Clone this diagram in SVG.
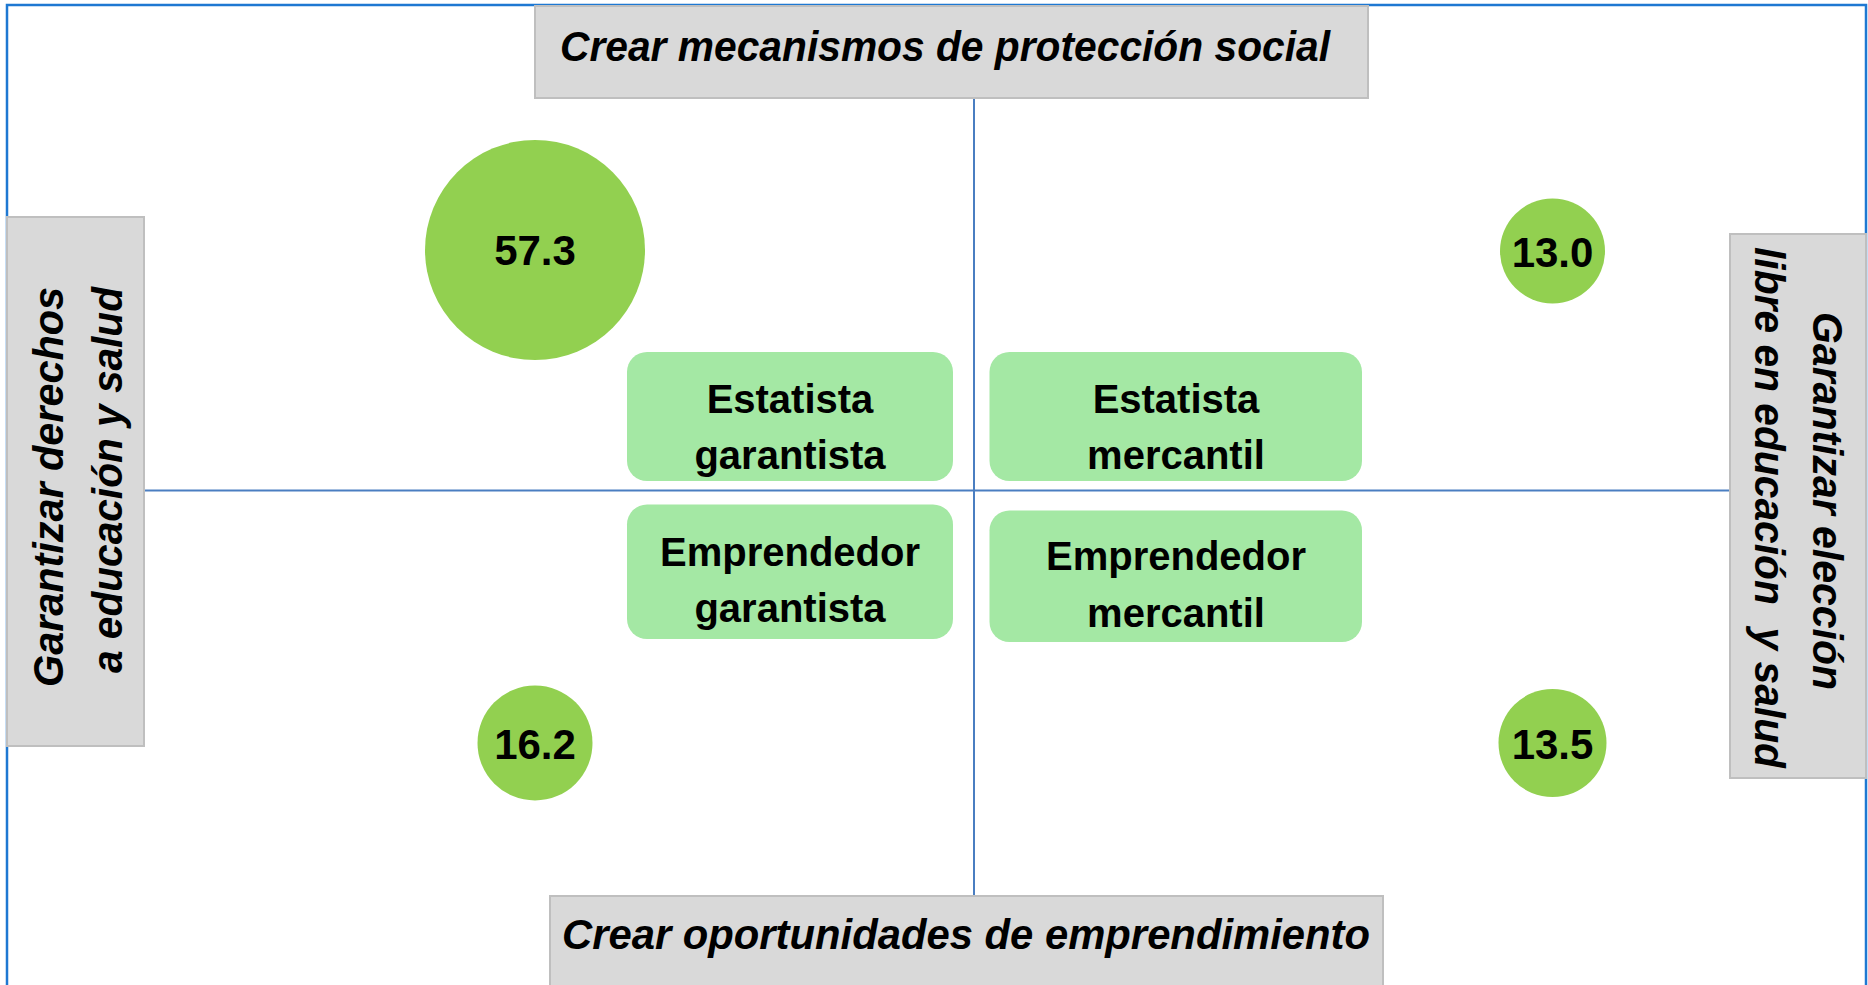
<svg xmlns="http://www.w3.org/2000/svg" width="1868" height="985" viewBox="0 0 1868 985">
<style>
.axis{fill:#D9D9D9;stroke:#BFBFBF;stroke-width:2}
.axt{font-family:"Liberation Sans",Arial,sans-serif;font-weight:bold;font-style:italic;font-size:43px;fill:#000;white-space:pre}
.dot{fill:#92D050}
.num{font-family:"Liberation Sans",Arial,sans-serif;font-weight:bold;font-size:42px;fill:#000;text-anchor:middle}
.quad{fill:#A4E8A4}
.qt{font-family:"Liberation Sans",Arial,sans-serif;font-weight:bold;font-size:40px;fill:#000;text-anchor:middle}
.ln{stroke:#4A7EC1;stroke-width:2;fill:none}
</style>
<rect x="0" y="0" width="1868" height="985" fill="#FFFFFF"/>
<rect id="frame" x="7" y="5" width="1859" height="1010" fill="none" stroke="#1E78D2" stroke-width="2.5"/>
<g id="connectors">
<line class="ln" x1="144" y1="490.5" x2="1730" y2="490.5"/>
<line class="ln" x1="974" y1="98" x2="974" y2="896"/>
</g>
<g id="top-axis">
<rect class="axis" x="535" y="6" width="833" height="92"/>
<text class="axt" x="560" y="61" textLength="770" lengthAdjust="spacingAndGlyphs">Crear mecanismos de protección social</text>
</g>
<g id="bottom-axis">
<rect class="axis" x="550" y="896" width="833" height="110"/>
<text class="axt" x="562" y="949" textLength="808" lengthAdjust="spacingAndGlyphs">Crear oportunidades de emprendimiento</text>
</g>
<g id="left-axis">
<rect class="axis" x="7" y="217" width="137" height="529"/>
<text class="axt" transform="translate(63,687) rotate(-90)" x="0" y="0" textLength="400" lengthAdjust="spacingAndGlyphs">Garantizar derechos</text>
<text class="axt" transform="translate(121.5,673) rotate(-90)" x="0" y="0" textLength="386" lengthAdjust="spacingAndGlyphs">a educación y salud</text>
</g>
<g id="right-axis">
<rect class="axis" x="1730" y="234" width="136" height="544"/>
<text class="axt" transform="translate(1813,312) rotate(90)" x="0" y="0" textLength="378" lengthAdjust="spacingAndGlyphs">Garantizar elección</text>
<text class="axt" transform="translate(1755,247) rotate(90)" x="0" y="0" textLength="521" lengthAdjust="spacingAndGlyphs">libre en educación  y salud</text>
</g>
<g id="bubble-57">
<circle class="dot" cx="535" cy="250" r="110"/>
<text class="num" x="535" y="265">57.3</text>
</g>
<g id="bubble-13-0">
<circle class="dot" cx="1552.5" cy="251" r="52.5"/>
<text class="num" x="1552.5" y="267">13.0</text>
</g>
<g id="bubble-16-2">
<circle class="dot" cx="535" cy="743" r="57.5"/>
<text class="num" x="535" y="759">16.2</text>
</g>
<g id="bubble-13-5">
<circle class="dot" cx="1552.5" cy="743" r="54"/>
<text class="num" x="1552.5" y="759">13.5</text>
</g>
<g id="estatista-garantista">
<rect class="quad" x="627" y="352" width="326" height="129" rx="20"/>
<text class="qt" x="790" y="413">Estatista</text>
<text class="qt" x="790" y="469">garantista</text>
</g>
<g id="estatista-mercantil">
<rect class="quad" x="989.5" y="352" width="372.5" height="129" rx="20"/>
<text class="qt" x="1176" y="413">Estatista</text>
<text class="qt" x="1176" y="469">mercantil</text>
</g>
<g id="emprendedor-garantista">
<rect class="quad" x="627" y="504.5" width="326" height="134.5" rx="20"/>
<text class="qt" x="790" y="566">Emprendedor</text>
<text class="qt" x="790" y="622">garantista</text>
</g>
<g id="emprendedor-mercantil">
<rect class="quad" x="989.5" y="510.5" width="372.5" height="131.5" rx="20"/>
<text class="qt" x="1176" y="570">Emprendedor</text>
<text class="qt" x="1176" y="627">mercantil</text>
</g>
</svg>
